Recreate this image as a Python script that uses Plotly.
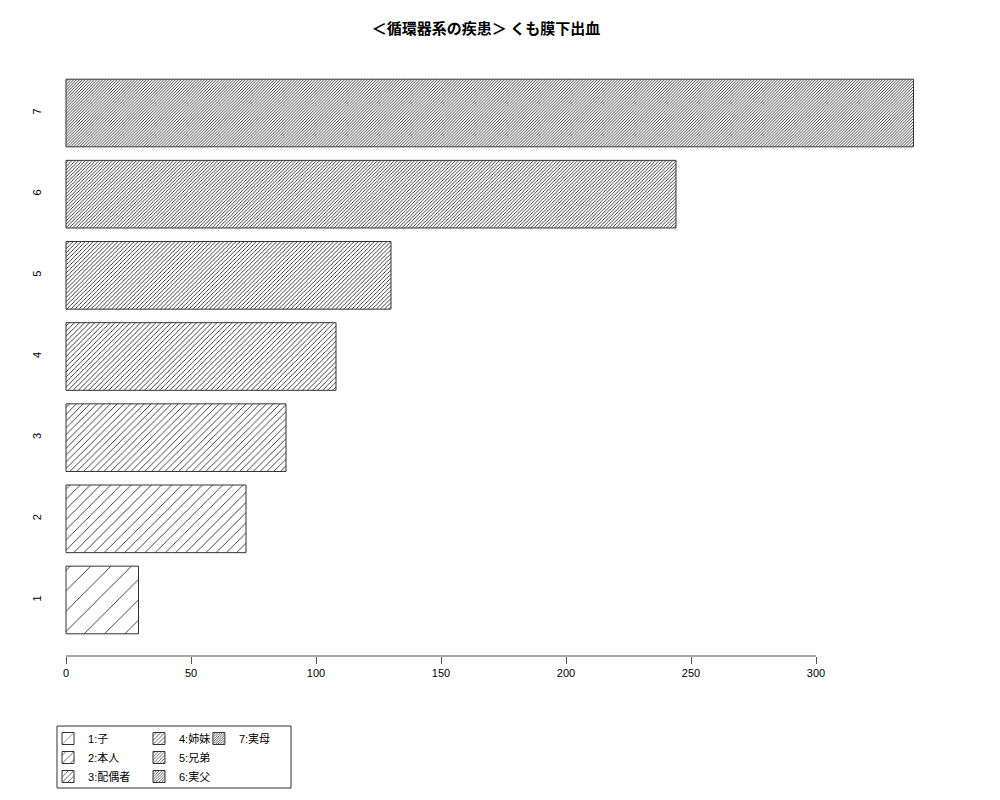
import plotly.graph_objects as go

# data
categories = ["1", "2", "3", "4", "5", "6", "7"]
values = [29, 72, 88, 108, 130, 244, 339]
legend_names = ["1:子", "2:本人", "3:配偶者", "4:姉妹", "5:兄弟", "6:実父", "7:実母"]
hatch_density = [5, 10, 15, 20, 25, 30, 35]  # lines per inch, like R's density=
x_ticks = [0, 50, 100, 150, 200, 250, 300]

title_text = "＜循環器系の疾患＞ くも膜下出血"
font_family = "Liberation Sans, Noto Sans CJK JP, sans-serif"

# legend split into three columns of 3/3/1 entries
legend_groups = ["legend", "legend", "legend", "legend2", "legend2", "legend2", "legend3"]

fig = go.Figure()

for cat, val, name, dens, lg in zip(categories, values, legend_names, hatch_density, legend_groups):
    # plotly pattern size = distance between hatch lines (px), 72 dpi like R's png
    size = 72 / dens
    fig.add_trace(go.Bar(
        x=[val],
        y=[cat],
        orientation="h",
        name=name,
        width=1 / 1.2,
        legend=lg,
        marker=dict(
            color="white",
            line=dict(color="#333", width=1),
            pattern=dict(shape="/", size=size, solidity=min(0.5, 0.75 / size),
                         fgcolor="black", bgcolor="white", fillmode="replace"),
        ),
        hoverinfo="x+y",
    ))

# R-style axis line that only covers the tick range
fig.add_shape(type="line", xref="x", yref="paper",
              x0=min(x_ticks), x1=max(x_ticks), y0=0, y1=0,
              line=dict(color="#555", width=1))

# legend frame
fig.add_shape(type="rect", xref="paper", yref="paper",
              x0=0.0078, x1=0.2687, y0=-0.1169, y1=-0.2204,
              line=dict(color="#333", width=1), fillcolor="rgba(0,0,0,0)")

legend_style = dict(
    orientation="v", xref="paper", yref="container",
    xanchor="left", yanchor="top", bgcolor="rgba(0,0,0,0)",
    borderwidth=0, font=dict(family=font_family, size=11, color="black"),
    itemwidth=30, itemclick=False, itemdoubleclick=False,
)
legend_top = 1 - 716 / 800

fig.update_layout(
    width=1000,
    height=800,
    paper_bgcolor="white",
    plot_bgcolor="white",
    barmode="overlay",
    margin=dict(l=42, r=61, t=49, b=152),
    font=dict(family=font_family, size=11, color="black"),
    title=dict(text="<b>" + title_text + "</b>", x=0.478, xanchor="center",
               y=1 - 21 / 800, yanchor="middle", yref="container",
               font=dict(family="Noto Sans CJK JP, sans-serif", size=15, color="black")),
    xaxis=dict(
        range=[-6.4, 352.4],
        tickvals=x_ticks,
        ticks="outside",
        ticklen=7,
        tickcolor="#555",
        showline=False,
        showgrid=False,
        zeroline=False,
        tickfont=dict(size=11),
    ),
    yaxis=dict(
        type="category",
        categoryorder="array",
        categoryarray=categories,
        range=[-0.69, 6.69],
        tickangle=-90,
        ticks="outside",
        ticklen=4,
        tickcolor="rgba(0,0,0,0)",
        showline=False,
        showgrid=False,
        zeroline=False,
        tickfont=dict(size=11),
    ),
    legend=dict(legend_style, x=-0.0022, y=legend_top),
    legend2=dict(legend_style, x=0.0992, y=legend_top),
    legend3=dict(legend_style, x=0.166, y=legend_top),
)

fig.write_html("out.html")
